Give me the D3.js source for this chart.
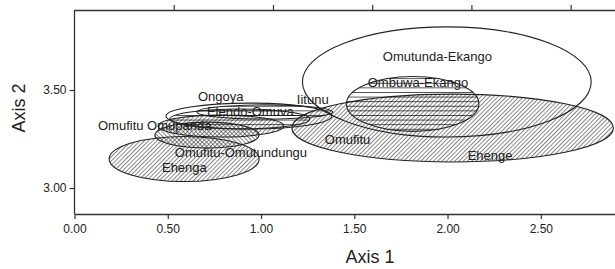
<!DOCTYPE html>
<html><head><meta charset="utf-8">
<script src="https://cdn.jsdelivr.net/npm/d3@7"></script>
<style>body{margin:0;background:#fff}svg{display:block}</style>
</head><body>
<script>
// ---- data ----
const groups   = ["Ehenga","Omufitu-Omutundungu","Omufitu Omupanda","Ongoya","Elendo-Omuva","Iitunu","Ehenge","Ombuwa-Ekango","Omutunda-Ekango"];
const centerX  = [0.588, 0.710, 0.785, 0.935, 0.886, 1.020, 2.027, 1.813, 1.996];
const centerY  = [3.148, 3.270, 3.316, 3.367, 3.352, 3.388, 3.306, 3.429, 3.541];
const radiusX  = [0.402, 0.279, 0.337, 0.445, 0.375, 0.364, 0.862, 0.355, 0.774];
const radiusY  = [0.115, 0.066, 0.056, 0.066, 0.051, 0.036, 0.173, 0.140, 0.281];
const fills    = ["diag","back","diag","none","horiz","horiz","diag","horiz","none"];

const labelText = ["Omutunda-Ekango","Ombuwa-Ekango","Iitunu","Ongoya","Elendo-Omuva","Omufitu Omupanda","Omufitu","Ehenge","Omufitu-Omutundungu","Ehenga"];
const labelX    = [1.653, 1.572, 1.192, 0.662, 0.710, 0.126, 1.342, 2.108, 0.538, 0.469];
const labelY    = [3.646, 3.515, 3.429, 3.444, 3.367, 3.296, 3.224, 3.143, 3.158, 3.082];

const xTicks = [0, 0.5, 1.0, 1.5, 2.0, 2.5];
const yTicks = [3.0, 3.5];
const topTicks = [1, 2, 3, 4, 5];

// ---- layout ----
const W = 615, H = 269;
const mLeft = 74.5, mRight = 615, mTop = 10, mBottom = 214;

const x = d3.scaleLinear().domain([0, 2.8977]).range([mLeft, mRight]);
const y = d3.scaleLinear().domain([2.8673, 3.9082]).range([mBottom, mTop]);
const xTop = d3.scaleLinear().domain([0, 5.447]).range([mLeft, mRight]);

const svg = d3.select("body").append("svg").attr("width", W).attr("height", H)
  .style("font-family", "'Liberation Sans', Arial, sans-serif");

const defs = svg.append("defs");
function pat(id, rot, size, sw) {
  const p = defs.append("pattern").attr("id", id).attr("patternUnits", "userSpaceOnUse")
    .attr("width", size).attr("height", size).attr("patternTransform", `rotate(${rot})`);
  p.append("line").attr("x1", 0).attr("y1", 0).attr("x2", 0).attr("y2", size)
    .attr("stroke", "#111").attr("stroke-width", sw);
}
pat("diag", 45, 3, 1);
pat("back", -45, 3, 1);
pat("horiz", 90, 4.6, 1.4);

// labels (drawn under the ellipses, as in the reference)
svg.append("g").selectAll("text").data(labelText).join("text")
  .attr("x", (d, i) => x(labelX[i])).attr("y", (d, i) => y(labelY[i]))
  .attr("font-size", 13).attr("fill", "#222").text(d => d);

// ellipses
svg.append("g").selectAll("ellipse").data(groups).join("ellipse")
  .attr("cx", (d, i) => x(centerX[i]))
  .attr("cy", (d, i) => y(centerY[i]))
  .attr("rx", (d, i) => x(radiusX[i]) - x(0))
  .attr("ry", (d, i) => y(0) - y(radiusY[i]))
  .attr("fill", (d, i) => fills[i] === "none" ? "none" : `url(#${fills[i]})`)
  .attr("stroke", "#222").attr("stroke-width", 1.1);

// axes
const axColor = "#333";
const gx = svg.append("g").attr("transform", `translate(0,${mBottom})`)
  .call(d3.axisBottom(x).tickValues(xTicks).tickFormat(d3.format(".2f")).tickSize(5).tickSizeOuter(0));
const gy = svg.append("g").attr("transform", `translate(${mLeft},0)`)
  .call(d3.axisLeft(y).tickValues(yTicks).tickFormat(d3.format(".2f")).tickSize(5).tickSizeOuter(0));
const gt = svg.append("g").attr("transform", `translate(0,${mTop})`)
  .call(d3.axisTop(xTop).tickValues(topTicks).tickFormat("").tickSize(5).tickSizeOuter(0));

[gx, gy, gt].forEach(g => {
  g.selectAll(".domain").attr("stroke", axColor).attr("stroke-width", 1.3);
  g.selectAll(".tick line").attr("stroke", axColor).attr("stroke-width", 1.2);
  g.selectAll("text").attr("fill", "#222").attr("font-size", 12)
    .style("font-family", "'Liberation Sans', Arial, sans-serif");
});
gx.selectAll("text").attr("dy", "0.71em").attr("y", 10);
gy.selectAll("text").attr("x", -8);
gy.select(".domain").attr("d", `M0,${mTop}V${mBottom}`);

svg.append("text").attr("x", 370).attr("y", 263)
  .attr("text-anchor", "middle").attr("font-size", 18).attr("fill", "#222").text("Axis 1");
svg.append("text").attr("transform", `translate(25,108) rotate(-90)`)
  .attr("text-anchor", "middle").attr("font-size", 18).attr("fill", "#222").text("Axis 2");
</script>
</body></html>
